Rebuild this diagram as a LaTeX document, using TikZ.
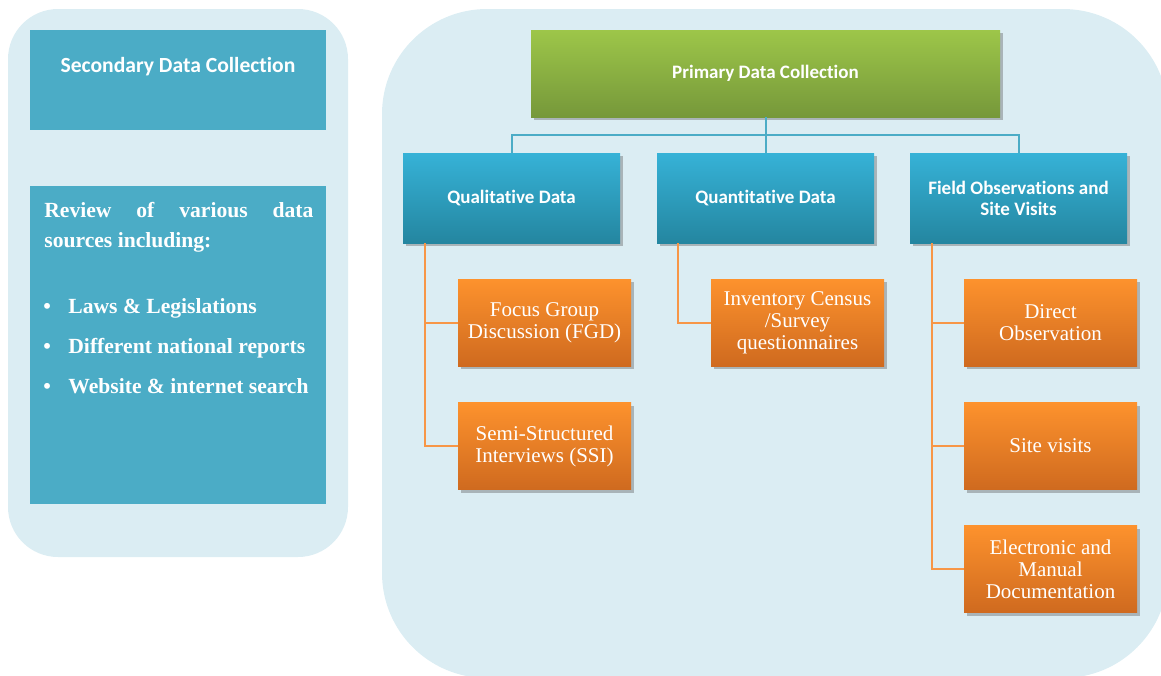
\documentclass[tikz,border=0pt]{standalone}
\usepackage{fontspec}
\setmainfont{Liberation Serif}
\newfontfamily\carlito[Ligatures=NoCommon]{Carlito}
\usepackage{tikz}
\usetikzlibrary{positioning,shadows}

\definecolor{panelblue}{HTML}{DBEDF3}
\definecolor{aqua}{HTML}{4BACC6}
\definecolor{greentop}{HTML}{9DC649}
\definecolor{greenbot}{HTML}{76983A}
\definecolor{bluetop}{HTML}{36B2D7}
\definecolor{bluebot}{HTML}{2486A0}
\definecolor{orangetop}{HTML}{FD922D}
\definecolor{orangebot}{HTML}{CF6A1F}
\definecolor{orangeline}{HTML}{F79646}

\tikzset{
  panel/.style={fill=panelblue, draw=none},
  sidebox/.style={fill=aqua, draw=none, minimum width=148pt, inner sep=0pt},
  sidetext/.style={text=white, font=\fontsize{10.8}{15}\selectfont\bfseries, inner sep=0pt},
  boxshadow/.style={drop shadow={shadow xshift=1.5pt, shadow yshift=-1.5pt, opacity=0.35, fill=black!70}},
  topbox/.style={boxshadow, top color=greentop, bottom color=greenbot, minimum width=234.5pt, minimum height=43.5pt,
    text=white, font=\carlito\bfseries\fontsize{9.5}{10.5}\selectfont},
  midbox/.style={boxshadow, top color=bluetop, bottom color=bluebot, minimum width=108.5pt, minimum height=45pt,
    text=white, align=center, font=\carlito\bfseries\fontsize{9.5}{10.5}\selectfont},
  leafbox/.style={boxshadow, top color=orangetop, bottom color=orangebot, minimum width=86.5pt, minimum height=43.5pt,
    text=white, align=center, font=\fontsize{10.5}{11}\selectfont},
  bluelink/.style={draw=aqua, line width=1pt},
  orangelink/.style={draw=orangeline, line width=1pt}
}

\begin{document}
\begin{tikzpicture}[x=0.5pt,y=-0.5pt]
\useasboundingbox (0,0) rectangle (1161,675);
\clip (0,0) rectangle (1161,675);

% panels
\path[panel, rounded corners=25pt] (8,9) rectangle (348,557);
\path[panel, rounded corners=52.5pt] (382,9) rectangle (1168,678);

% secondary data
\node (sec) [sidebox, minimum height=50pt] at (178,80) {};
\node (sectitle) [text=white, font=\carlito\bfseries\fontsize{10.8}{12}\selectfont, inner sep=0pt] at (178,67) {Secondary Data Collection};
\node (review) [sidebox, minimum height=159pt] at (178,345) {};
\node (rev1) [sidetext, anchor=base west] at (44,217) {\makebox[134.5pt][s]{Review of various data}};
\node (rev2) [sidetext, anchor=base west] at (44,247) {sources including:};
\foreach \txt [count=\i] in {Laws \& Legislations, Different national reports, Website \& internet search}{
  \node (dot\i) [sidetext, anchor=base west] at (43,{273+40*\i}) {\textbullet};
  \node (item\i) [sidetext, anchor=base west] at (68,{273+40*\i}) {\txt};
}

% primary data
\node (prim) [topbox] at (765.5,73.5) {Primary Data Collection};
\node (qual) [midbox] at (511.5,198) {Qualitative Data};
\node (quant) [midbox] at (765.5,198) {Quantitative Data};
\node (field) [midbox] at (1018.5,198) {Field Observations and\\Site Visits};

\node (fgd) [leafbox] at (544.5,322.5) {Focus Group\\Discussion (FGD)};
\node (ssi) [leafbox] at (544.5,446) {Semi-Structured\\Interviews (SSI)};
\node (census) [leafbox] at (797.5,322.5) {Inventory Census\\/Survey\\questionnaires};
\node (direct) [leafbox] at (1050.5,322.5) {Direct\\Observation};
\node (site) [leafbox] at (1050.5,446) {Site visits};
\node (docs) [leafbox] at (1050.5,569) {Electronic and\\Manual\\Documentation};

% connectors
\draw[bluelink] (prim.south) -- ++(0,18) -| (qual.north);
\draw[bluelink] (prim.south) -- (quant.north);
\draw[bluelink] (prim.south) -- ++(0,18) -| (field.north);

\draw[orangelink] ([xshift=11pt]qual.south west) |- (fgd.west);
\draw[orangelink] ([xshift=11pt]qual.south west) |- (ssi.west);
\draw[orangelink] ([xshift=10.5pt]quant.south west) |- (census.west);
\draw[orangelink] ([xshift=11pt]field.south west) |- (direct.west);
\draw[orangelink] ([xshift=11pt]field.south west) |- (site.west);
\draw[orangelink] ([xshift=11pt]field.south west) |- (docs.west);
\end{tikzpicture}
\end{document}
